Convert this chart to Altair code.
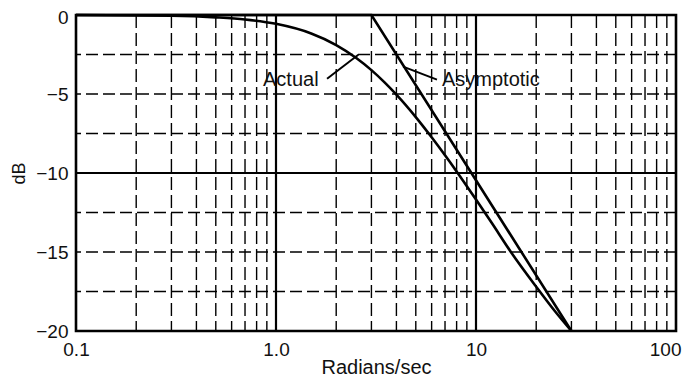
import altair as alt
import pandas as pd

# Actual magnitude curve
act_w = [0.1, 0.3, 0.5, 0.7, 1.0, 1.5, 2.0, 2.5, 3.0, 3.5, 4.0, 5.0, 6.0,
         7.0, 8.0, 10.0, 12.0, 15.0, 20.0, 25.0, 30.0]
act_db = [0.0, -0.05, -0.15, -0.28, -0.56, -1.17, -1.9, -2.69, -3.49, -4.28, -5.04,
          -6.46, -7.74, -8.88, -9.9, -11.68, -13.17, -15.03, -17.2, -18.8, -20.0]

# Asymptotic curve
asy_w = [0.1, 3.0, 30.0]
asy_db = [0.0, 0.0, -20.0]

# Grid positions
minor_x = [0.2, 0.3, 0.4, 0.5, 0.6, 0.7, 0.8, 0.9,
           2, 3, 4, 5, 6, 7, 8, 9,
           20, 30, 40, 50, 60, 70, 80, 90]
major_x = [1, 10]
minor_y = [-2.5, -5, -7.5, -12.5, -15, -17.5]
major_y = [-10]

# Tick values
x_ticks = [0.1, 1, 10, 100]
y_ticks = [0, -5, -10, -15, -20]

# Annotations
ann_text = ["Actual", "Asymptotic"]
ann_w = [0.861, 6.76]
ann_db = [-4.09, -4.09]
ptr_w1 = [1.80, 4.32]
ptr_db1 = [-4.03, -3.27]
ptr_w2 = [2.58, 6.38]
ptr_db2 = [-2.52, -4.09]

FONT = "Liberation Sans"
xs = alt.Scale(type="log", domain=[0.1, 100], nice=False)
ys = alt.Scale(domain=[-20, 0], nice=False)

x_axis = alt.Axis(values=x_ticks, title="Radians/sec",
                  labelExpr="datum.value < 0.5 ? '0.1' : datum.value < 5 ? '1.0' : datum.value < 50 ? '10' : '100'",
                  labelFlush=False, labelPadding=9, titlePadding=-2,
                  labelAlign={"condition": {"test": "datum.value > 50", "value": "right"}, "value": "center"},
                  labelOffset={"condition": {"test": "datum.value > 50", "value": 5}, "value": 0})
y_axis = alt.Axis(values=y_ticks, title="dB",
                  labelExpr="datum.value == 0 ? '0' : '\u2212' + abs(datum.value)",
                  labelFlush=False, labelPadding=8,
                  labelOffset={"condition": {"test": "datum.value == 0", "value": 2}, "value": 0},
                  titleX=-48, titleBaseline="bottom", titleFontSize=18)


def X(f):
    return alt.X(f, scale=xs, axis=x_axis)


def Y(f):
    return alt.Y(f, scale=ys, axis=y_axis)


df_act = pd.DataFrame({"w": act_w, "db": act_db})
df_asy = pd.DataFrame({"w": asy_w, "db": asy_db})

act = alt.Chart(df_act).mark_line(color="#000", strokeWidth=2.6, interpolate="monotone").encode(
    x=X("w:Q"), y=Y("db:Q"))
asy = alt.Chart(df_asy).mark_line(color="#000", strokeWidth=2.6).encode(
    x=X("w:Q"), y=Y("db:Q"))

vminor = alt.Chart(pd.DataFrame({"w": minor_x})).mark_rule(
    color="#000", strokeWidth=1.4, strokeDash=[13, 5]).encode(x=X("w:Q"))
vmajor = alt.Chart(pd.DataFrame({"w": major_x})).mark_rule(
    color="#000", strokeWidth=2.2).encode(x=X("w:Q"))
hminor = alt.Chart(pd.DataFrame({"db": minor_y})).mark_rule(
    color="#000", strokeWidth=1.4, strokeDash=[12, 5]).encode(y=Y("db:Q"))
hmajor = alt.Chart(pd.DataFrame({"db": major_y})).mark_rule(
    color="#000", strokeWidth=2.2).encode(y=Y("db:Q"))

df_ptr = pd.DataFrame({"w1": ptr_w1, "d1": ptr_db1, "w2": ptr_w2, "d2": ptr_db2})
ptr = alt.Chart(df_ptr).mark_rule(color="#000", strokeWidth=2).encode(
    x=X("w1:Q"), x2="w2:Q", y=Y("d1:Q"), y2="d2:Q")

df_ann = pd.DataFrame({"t": ann_text, "w": ann_w, "db": ann_db})
ann = alt.Chart(df_ann).mark_text(align="left", baseline="middle", font=FONT,
                                  fontSize=20, color="#111").encode(
    x=X("w:Q"), y=Y("db:Q"), text="t:N")

chart = alt.layer(vminor, hminor, vmajor, hmajor, asy, act, ptr, ann).properties(
    width=600, height=316,
    autosize=alt.AutoSizeParams(type="none"),
    padding={"left": 68, "top": 7, "right": 6, "bottom": 46},
    background="white",
).configure_view(stroke="#000", strokeWidth=2.6).configure_axis(
    domain=False, ticks=False, grid=False,
    labelFont=FONT, labelFontSize=19, labelColor="#111",
    titleFont=FONT, titleFontSize=20, titleFontWeight="normal", titleColor="#111",
)

chart.save("out.html", embed_options={"renderer": "svg", "actions": False})
